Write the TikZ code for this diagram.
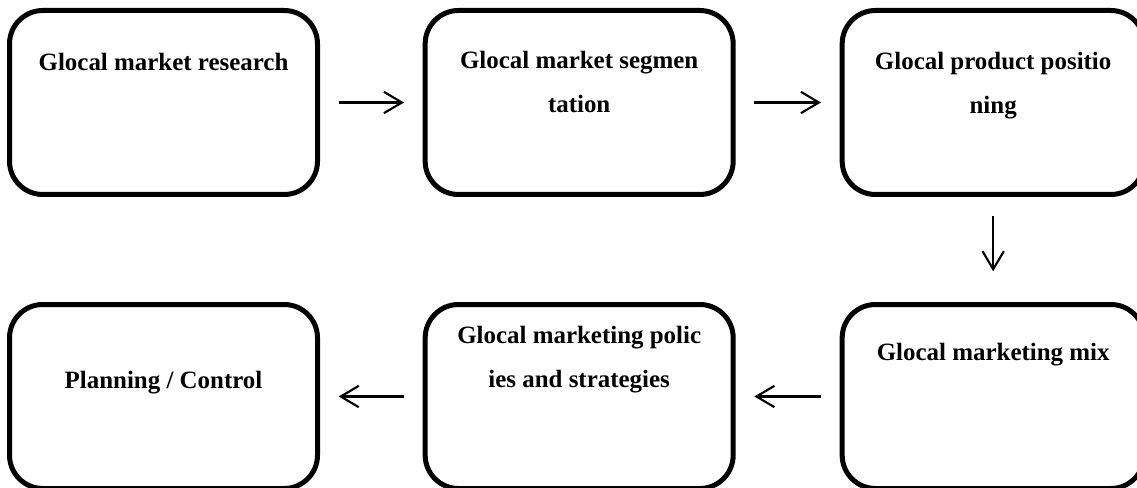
\documentclass[tikz,border=0pt]{standalone}
\usepackage{fontspec}
\setmainfont{Liberation Serif}
\usepackage{tikz}
\usetikzlibrary{shapes,arrows.meta,positioning}
\tikzstyle{stage} = [draw, rounded corners=25pt, line width=3.75pt, minimum width=231pt, minimum height=138pt, inner sep=0pt]
\tikzstyle{narrow} = [minimum width=226.5pt]
\tikzstyle{stagetext} = [anchor=north, inner sep=0pt, align=center, font=\fontsize{18.7pt}{33pt}\selectfont\bfseries]
\tikzstyle{flow} = [-{Straight Barb[length=13.5pt,width=16pt]}, line width=1.6pt, shorten <=14pt, shorten >=14pt]

\begin{document}
\begin{tikzpicture}[x=0.75pt,y=-0.75pt]
		\useasboundingbox (0,0) rectangle (1137,488);
		\node [stage] (research) at (163.5,102.5) {};
		\node [stage, right=77pt of research] (segment) {};
		\node [stage, narrow, right=78pt of segment] (position) {};
		\node [stage, narrow, below=78.75pt of position] (mix) {};
		\node [stage, left=78pt of mix] (policies) {};
		\node [stage, left=77pt of policies] (planning) {};
		
		\node [stagetext] (researchtext) at ([yshift=-33.5pt]research.north) {Glocal market research};
		\node [stagetext] (segmenttext) at ([yshift=-32pt]segment.north) {Glocal market segmen\\tation};
		\node [stagetext] (positiontext) at ([yshift=-33pt]position.north) {Glocal product positio\\ning};
		\node [stagetext] (mixtext) at ([yshift=-30.5pt]mix.north) {Glocal marketing mix};
		\node [stagetext] (policiestext) at ([yshift=-18pt]policies.north) {Glocal marketing polic\\ies and strategies};
		\node [stagetext] (planningtext) at ([yshift=-52pt]planning.north) {Planning / Control};
		
		\draw [flow] (research) -- (segment);
		\draw [flow] (segment) -- (position);
		\draw [flow, shorten >=23pt] (position) -- (mix);
		\draw [flow] (mix) -- (policies);
		\draw [flow] (policies) -- (planning);
		
\end{tikzpicture}
\end{document}
